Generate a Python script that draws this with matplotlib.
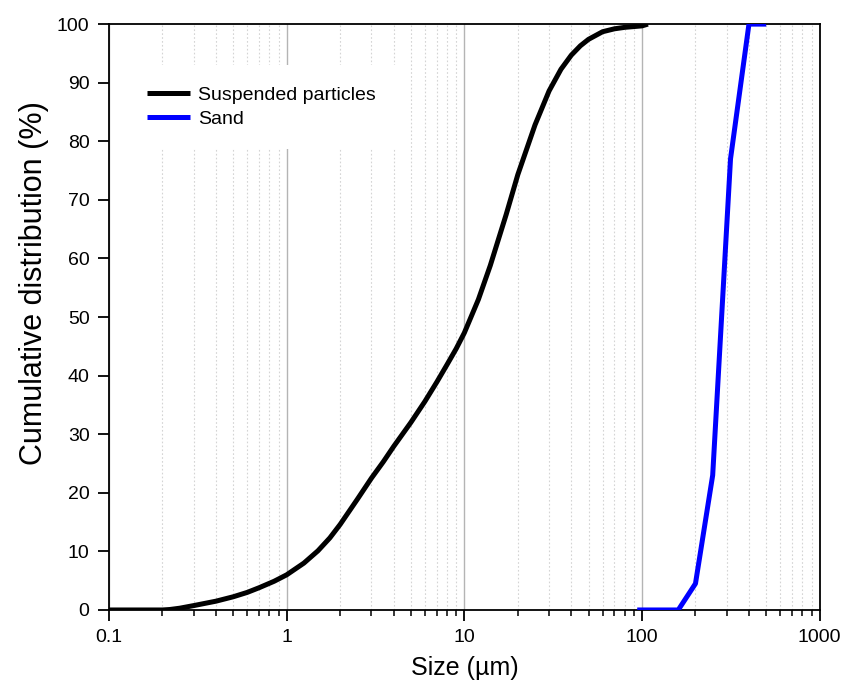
import numpy as np
import matplotlib.pyplot as plt
from matplotlib.ticker import LogLocator, FixedLocator, NullFormatter

plt.rcParams['font.family'] = ['Liberation Sans', 'DejaVu Sans']

# Suspended particles
susp_size = [0.1, 0.2, 0.22, 0.25, 0.3, 0.4, 0.5, 0.6, 0.7, 0.85, 1.0, 1.25, 1.5, 1.75,
             2.0, 2.5, 3.0, 3.5, 4.0, 5.0, 6.0, 7.0, 8.0, 9.0, 10, 12, 14, 17.2,
             20, 25, 30, 35, 40, 45, 50, 60, 70, 80, 100, 108]
susp_cum = [0, 0, 0.08, 0.3, 0.75, 1.5, 2.25, 3.0, 3.8, 4.9, 6.0, 8.0, 10.1, 12.3,
            14.6, 18.9, 22.5, 25.3, 27.9, 32.0, 35.6, 38.9, 41.9, 44.6, 47.3, 53.0,
            58.8, 67.5, 74.3, 82.8, 88.6, 92.3, 94.7, 96.3, 97.4, 98.7, 99.2, 99.45,
            99.7, 100]

# Sand
sand_size = [94, 160, 200, 250, 315, 400, 500]
sand_cum = [0, 0, 4.5, 23, 77, 100, 100]

xticks = [0.1, 1, 10, 100, 1000]
xtick_labels = ['0.1', '1', '10', '100', '1000']

fig = plt.figure(figsize=(8.45, 6.89), dpi=100)
ax = fig.add_axes([0.129, 0.1147, 0.841, 0.8503])

ax.plot(susp_size, susp_cum, color='black', lw=3.6, label='Suspended particles',
        solid_capstyle='butt', solid_joinstyle='round', zorder=3)
ax.plot(sand_size, sand_cum, color='#0000ff', lw=3.6, label='Sand',
        solid_capstyle='butt', zorder=3)

ax.set_xscale('log')
ax.set_xlim(0.1, 1000)
ax.set_ylim(0, 100)
ax.set_yticks(np.arange(0, 101, 10))
ax.xaxis.set_major_locator(FixedLocator(xticks))
ax.set_xticklabels(xtick_labels)
ax.xaxis.set_minor_locator(LogLocator(base=10, subs=np.arange(2, 10), numticks=20))
ax.xaxis.set_minor_formatter(NullFormatter())

ax.grid(which='major', axis='x', color='#b4b4b4', lw=1.0, ls='-', zorder=0)
ax.grid(which='minor', axis='x', color='#d4d4d4', lw=0.8, ls=(0, (1.5, 2)), zorder=0)

ax.tick_params(axis='both', which='major', direction='out', length=8, width=1.3,
               labelsize=14, pad=6, top=False, right=False)
ax.tick_params(axis='x', which='minor', direction='out', length=4.5, width=1.1,
               top=False)
for s in ax.spines.values():
    s.set_linewidth(1.3)

ax.set_xlabel('Size (µm)', fontsize=18, labelpad=7)
ax.set_ylabel('Cumulative distribution (%)', fontsize=22)
ax.yaxis.set_label_coords(-0.084, 0.558)

leg = ax.legend(loc='upper left', bbox_to_anchor=(0.024, 0.93), fontsize=14,
                frameon=True, fancybox=False, edgecolor='none', facecolor='white',
                framealpha=1, handlelength=2.2, handletextpad=0.4, labelspacing=0.3,
                borderpad=1.1, borderaxespad=0)
leg.set_zorder(4)

fig.savefig('out.png', dpi=100)
